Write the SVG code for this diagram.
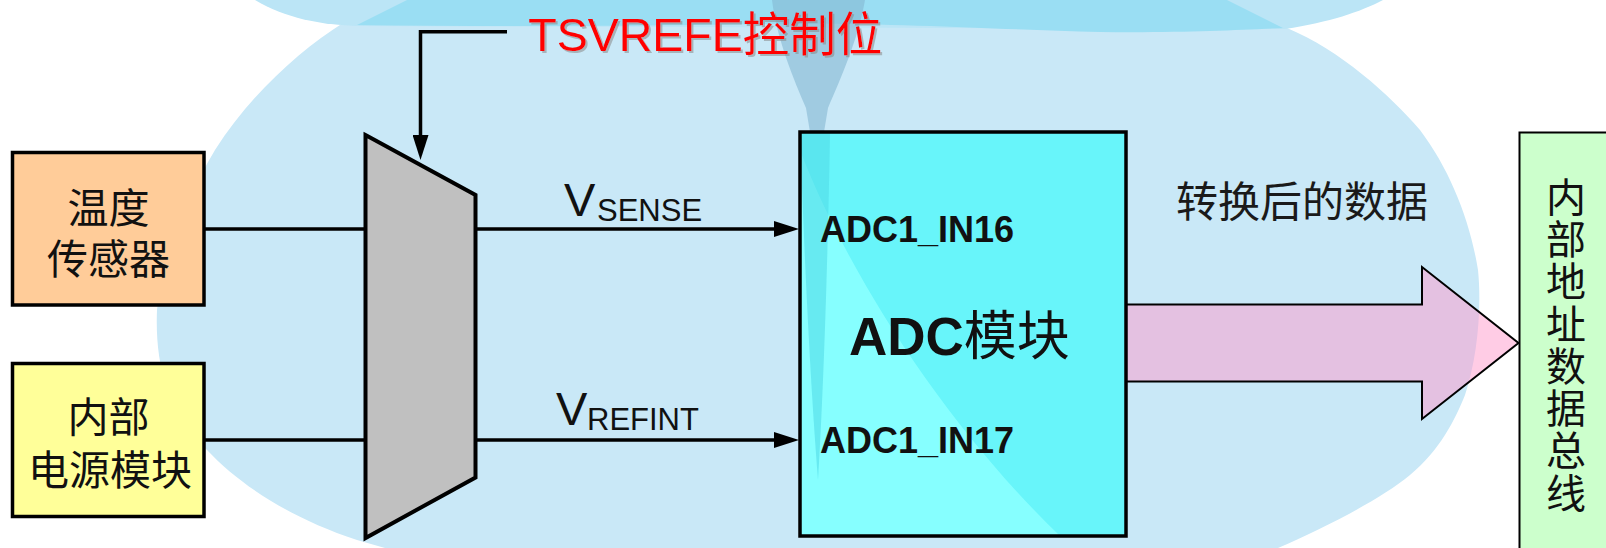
<svg xmlns="http://www.w3.org/2000/svg" width="1606" height="548" viewBox="0 0 1606 548">
  <defs>
    <style>
      .cjk { font-family: "Noto Sans CJK SC", "Liberation Sans", sans-serif; }
      .lat { font-family: "Liberation Sans", "Noto Sans CJK SC", sans-serif; }
      .box { stroke: #000; stroke-width: 3.5; }
      .wire { fill: none; stroke: #000; stroke-width: 3.5; }
      .blk { fill: #111; }
    </style>
    <marker id="ah" viewBox="0 0 25 16" refX="1" refY="8" markerWidth="25" markerHeight="16" markerUnits="userSpaceOnUse" orient="auto">
      <path d="M0 0 L25 8 L0 16 Z" fill="#000"/>
    </marker>
    <filter id="shadow" x="-5%" y="-20%" width="110%" height="140%">
      <feDropShadow dx="2" dy="2" stdDeviation="0.6" flood-color="#888" flood-opacity="0.55"/>
    </filter>
    <clipPath id="adcClip">
      <rect x="800" y="132" width="326" height="404"/>
    </clipPath>
  </defs>

  <!-- background -->
  <rect width="1606" height="548" fill="#fff"/>
  <g id="background">
    <path d="M 345 0 L 343 23 C 300 50 250 95 215 150 C 185 200 162 260 157 310 C 155 360 165 410 207 450 C 240 485 290 518 357 540 L 385 548 L 1278 548 C 1320 530 1380 500 1410 475 C 1440 450 1455 420 1465 395 C 1477 360 1482 310 1478 270 C 1470 220 1450 170 1420 130 C 1390 95 1340 50 1287 28 L 1290 0 Z" fill="#C9E8F7"/>
    <path d="M 255 0 C 285 18 320 25 360 26 L 1285 29 C 1330 22 1360 12 1383 0 Z" fill="#BBE5F6"/>
    <path d="M 407 0 L 357 25 C 500 27 650 26 760 24 C 900 22 1000 30 1100 32 C 1180 33 1240 30 1283 28 L 1227 0 Z" fill="#9ADEF3"/>
    <path d="M 772 0 L 865 0 C 858 40 840 80 828 108 L 824 132 L 810 132 L 806 108 C 794 80 777 40 772 0 Z" fill="#86B8D2" fill-opacity="0.6"/>
  </g>

  <!-- connectors -->
  <g id="connectors">
    <line class="wire" x1="204" y1="229" x2="366" y2="229"/>
    <line class="wire" x1="204" y1="440" x2="366" y2="440"/>
    <line class="wire" x1="475" y1="229" x2="775" y2="229" marker-end="url(#ah)"/>
    <line class="wire" x1="475" y1="440" x2="775" y2="440" marker-end="url(#ah)"/>
    <path class="wire" d="M 507 31.7 L 420.5 31.7 L 420.5 136" marker-end="url(#ah)"/>
    <text class="lat blk" x="564" y="216" font-size="47">V<tspan x="597" y="221" font-size="31">SENSE</tspan></text>
    <text class="lat blk" x="556" y="425" font-size="47">V<tspan x="587" y="429.5" font-size="31">REFINT</tspan></text>
    <path id="data-arrow" d="M 1126 304.5 L 1422 304.5 L 1422 267 L 1518.5 343 L 1422 419 L 1422 381.5 L 1126 381.5 Z" fill="#FF99CC" fill-opacity="0.5" stroke="#000" stroke-width="2" stroke-linejoin="miter"/>
    <text class="cjk" x="1302" y="217" font-size="42" fill="#1a1a1a" text-anchor="middle">转换后的数据</text>
  </g>

  <!-- control label -->
  <g id="control-label">
    <text class="lat" x="528.3" y="50.7" font-size="46.5" fill="#FF0000" filter="url(#shadow)">TSVREFE控制位</text>
  </g>

  <!-- temperature sensor -->
  <g id="temp-sensor">
    <rect class="box" x="12.5" y="152.5" width="191.5" height="152.5" fill="#FFCC99"/>
    <text class="lat blk" x="108.5" y="223" font-size="41" text-anchor="middle">温度</text>
    <text class="lat blk" x="108.5" y="274" font-size="41" text-anchor="middle">传感器</text>
  </g>

  <!-- internal power module -->
  <g id="power-module">
    <rect class="box" x="12.5" y="363.5" width="191.5" height="153" fill="#FFFF99"/>
    <text class="lat blk" x="108.5" y="432" font-size="41" text-anchor="middle">内部</text>
    <text class="lat blk" x="110" y="485" font-size="41" text-anchor="middle">电源模块</text>
  </g>

  <!-- mux -->
  <g id="mux">
    <polygon points="365.5,135 475.5,195 475.5,477.5 365.5,538" fill="#C0C0C0" stroke="#000" stroke-width="4" stroke-linejoin="miter"/>
  </g>

  <!-- ADC module -->
  <g id="adc">
    <rect x="800" y="132" width="326" height="404" fill="#68F5FA"/>
    <g clip-path="url(#adcClip)">
      <path d="M 800 150 C 850 280 950 430 1060 536 L 800 536 Z" fill="#86FFFF"/>
      <path d="M 800 132 L 830 132 C 828 250 824 380 818 480 C 810 380 804 250 800 132 Z" fill="#4FD9E6" fill-opacity="0.55"/>
    </g>
    <rect class="box" x="800" y="132" width="326" height="404" fill="none"/>
    <text class="lat blk" x="820" y="242" font-size="36" font-weight="bold">ADC1_IN16</text>
    <text class="lat blk" x="820" y="453" font-size="36" font-weight="bold">ADC1_IN17</text>
    <text class="lat blk" x="849" y="355" font-size="53" font-weight="bold">ADC<tspan class="cjk" font-weight="normal">模块</tspan></text>
  </g>

  <!-- internal bus -->
  <g id="internal-bus">
    <rect x="1519.5" y="132.5" width="100" height="430" fill="#CCFFCC" stroke="#000" stroke-width="2"/>
    <text class="cjk blk" x="1566" y="176.5" font-size="40" writing-mode="vertical-rl" letter-spacing="2.3">内部地址数据总线</text>
  </g>
</svg>
